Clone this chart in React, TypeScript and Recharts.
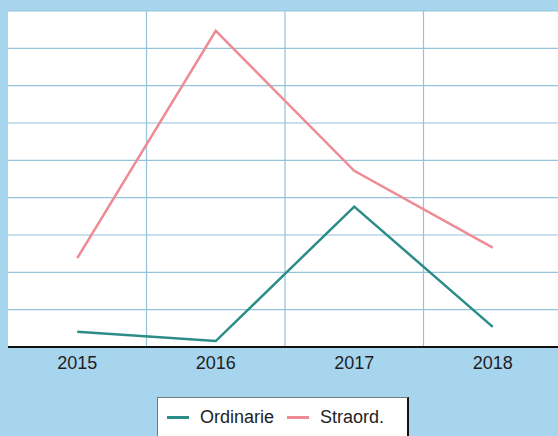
import React from "react";
import { LineChart, Line, XAxis, YAxis, CartesianGrid, Legend } from "recharts";

const years = ["2015", "2016", "2017", "2018"];
const ordinarie = [0.41, 0.16, 3.76, 0.54];
const straord = [2.38, 8.47, 4.72, 2.66];
const yTicks = [0, 1, 2, 3, 4, 5, 6, 7, 8, 9];

const data = years.map((y, i) => ({ year: y, Ordinarie: ordinarie[i], "Straord.": straord[i] }));

const FONT = "'Liberation Sans', Arial, sans-serif";

const LegendBox = (props: any) => {
  const payload = props.payload || [];
  return (
    <div
      style={{
        background: "#fff",
        border: "1px solid #777",
        borderRight: "2px solid #111",
        height: 60,
        boxSizing: "border-box",
        display: "flex",
        alignItems: "flex-start",
        paddingTop: 9,
        paddingLeft: 9,
        fontFamily: FONT,
        fontSize: 18,
        color: "#1e1e24",
      }}
    >
      {payload.map((p: any) => (
        <div key={p.value} style={{ display: "flex", alignItems: "center", marginRight: 13 }}>
          <span style={{ display: "inline-block", width: 22, height: 3, background: p.color, marginRight: 11 }} />
          <span>{p.value}</span>
        </div>
      ))}
    </div>
  );
};

export default function App() {
  return (
    <div style={{ position: "fixed", left: 0, top: 0, width: 558, height: 436, background: "#a8d5ee", overflow: "hidden" }}>
      <LineChart width={558} height={436} data={data} margin={{ top: 11, left: 8, right: -4, bottom: 0 }}>
        <CartesianGrid
          fill="#ffffff"
          stroke="#94c3da"
          strokeWidth={1.2}
          verticalCoordinatesGenerator={({ offset }: any) =>
            [1, 2, 3].map((k) => offset.left + (offset.width * k) / 4)
          }
        />
        <XAxis
          dataKey="year"
          scale="band"
          height={89}
          tickLine={false}
          tickMargin={3}
          axisLine={{ stroke: "#111", strokeWidth: 2 }}
          tick={{ fill: "#1e1e24", fontSize: 18, fontFamily: FONT }}
        />
        <YAxis hide domain={[0, 9]} ticks={yTicks} />
        <Legend
          verticalAlign="middle"
          align="center"
          layout="horizontal"
          wrapperStyle={{ left: 157, top: 397, width: 252 }}
          content={<LegendBox />}
        />
        <Line dataKey="Ordinarie" stroke="#2b8c88" strokeWidth={2.5} dot={false} isAnimationActive={false} />
        <Line dataKey="Straord." stroke="#ef8b93" strokeWidth={2.5} dot={false} isAnimationActive={false} />
      </LineChart>
    </div>
  );
}
